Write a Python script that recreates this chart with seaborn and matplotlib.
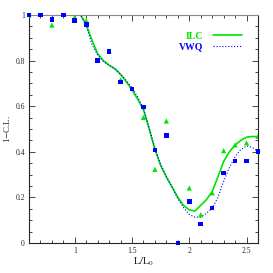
import numpy as np
import pandas as pd
import matplotlib
matplotlib.use('Agg')
import matplotlib.pyplot as plt
import seaborn as sns

# fitted curves, every 0.05
fit_x = [0.60, 0.65, 0.70, 0.75, 0.80, 0.85, 0.90, 0.95, 1.00, 1.05,
         1.10, 1.15, 1.20, 1.25, 1.30, 1.35, 1.40, 1.45, 1.50, 1.55,
         1.60, 1.65, 1.70, 1.75, 1.80, 1.85, 1.90, 1.95, 2.00, 2.05,
         2.10, 2.15, 2.20, 2.25, 2.30, 2.35, 2.40, 2.45, 2.50, 2.55, 2.60]
ilc_fit = [1.0, 1.0, 1.0, 1.0, 1.0, 1.0, 1.0, 1.0, 1.0, 1.0,
           0.96, 0.89, 0.83, 0.80, 0.78, 0.765, 0.74, 0.707, 0.672, 0.63,
           0.585, 0.50, 0.41, 0.34, 0.29, 0.245, 0.20, 0.165, 0.145, 0.14,
           0.165, 0.19, 0.225, 0.29, 0.357, 0.40, 0.43, 0.45, 0.464, 0.467, 0.466]
vwq_fit = [1.0, 1.0, 1.0, 1.0, 1.0, 1.0, 1.0, 1.0, 1.0, 1.0,
           0.955, 0.87, 0.825, 0.795, 0.78, 0.762, 0.74, 0.713, 0.68, 0.64,
           0.59, 0.505, 0.415, 0.345, 0.29, 0.245, 0.195, 0.155, 0.125, 0.113,
           0.114, 0.13, 0.152, 0.20, 0.27, 0.33, 0.379, 0.41, 0.425, 0.42, 0.40]

# measured points
ilc_x = [0.6, 0.8, 1.0, 1.1, 1.3, 1.4, 1.6, 1.7, 1.8, 2.0, 2.1, 2.2, 2.3, 2.4, 2.5, 2.6]
ilc_y = [1.0, 0.956, 0.99, 0.975, 0.843, 0.716, 0.551, 0.323, 0.535, 0.241,
         0.124, 0.22, 0.405, 0.43, 0.439, 0.468]
vwq_x = [0.6, 0.7, 0.8, 0.9, 1.0, 1.1, 1.2, 1.3, 1.4, 1.5, 1.6, 1.7, 1.8, 1.9,
         2.0, 2.1, 2.2, 2.3, 2.4, 2.5, 2.6]
vwq_y = [1.0, 1.0, 0.981, 1.0, 0.977, 0.959, 0.80, 0.839, 0.706, 0.676, 0.596,
         0.408, 0.471, 0.0, 0.183, 0.083, 0.154, 0.307, 0.36, 0.36, 0.40]

green = '#00e400'
blue = '#0000ff'

sns.set_style('ticks')
plt.rcParams['font.family'] = ['Liberation Serif', 'DejaVu Serif']
plt.rcParams['mathtext.fontset'] = 'stix'

fig = plt.figure(figsize=(2.73, 2.73), dpi=100)
ax = fig.add_axes([0.106, 0.110, 0.839, 0.835])

sns.lineplot(x=fit_x, y=ilc_fit, ax=ax, color=green, lw=1.2, label='ILC')
sns.lineplot(x=fit_x, y=vwq_fit, ax=ax, color=blue, lw=0.8, ls=':', label='VWQ')
sns.scatterplot(x=ilc_x, y=ilc_y, ax=ax, color=green, marker='^', s=14,
                edgecolor='none', zorder=3)
sns.scatterplot(x=vwq_x, y=vwq_y, ax=ax, color=blue, marker='s', s=11,
                edgecolor='none', zorder=4, clip_on=False)

ax.set_xlim(0.6, 2.6)
ax.set_ylim(0, 1)
ax.set_xticks([1, 1.5, 2, 2.5])
ax.set_xticklabels(['1', '1.5', '2', '2.5'])
ax.set_xticks(np.arange(0.6, 2.61, 0.1), minor=True)
ax.set_yticks([0, 0.2, 0.4, 0.6, 0.8, 1])
ax.set_yticklabels(['0', '0.2', '0.4', '0.6', '0.8', '1'])
ax.set_yticks(np.arange(0, 1.001, 0.05), minor=True)
ax.tick_params(which='both', direction='in', top=True, right=True,
               labelsize=5.5, width=0.6, pad=3)
ax.tick_params(which='major', length=4)
ax.tick_params(which='minor', length=2)
for s in ax.spines.values():
    s.set_linewidth(0.8)
ax.spines['top'].set_color('#888888')

ax.set_xlabel(r'$\mathrm{L/L_0}$', fontsize=7.5, labelpad=0.5)
ax.set_ylabel(r'1$-$C.L.', fontsize=6.5, labelpad=2)

leg = ax.legend(loc='upper right', bbox_to_anchor=(0.97, 0.965), frameon=False,
                markerfirst=False, handlelength=3.0, handletextpad=1.0,
                labelspacing=0.15, prop={'weight': 'bold', 'size': 7})
for txt, c in zip(leg.get_texts(), [green, blue]):
    txt.set_color(c)

fig.savefig('out.png', dpi=100)
